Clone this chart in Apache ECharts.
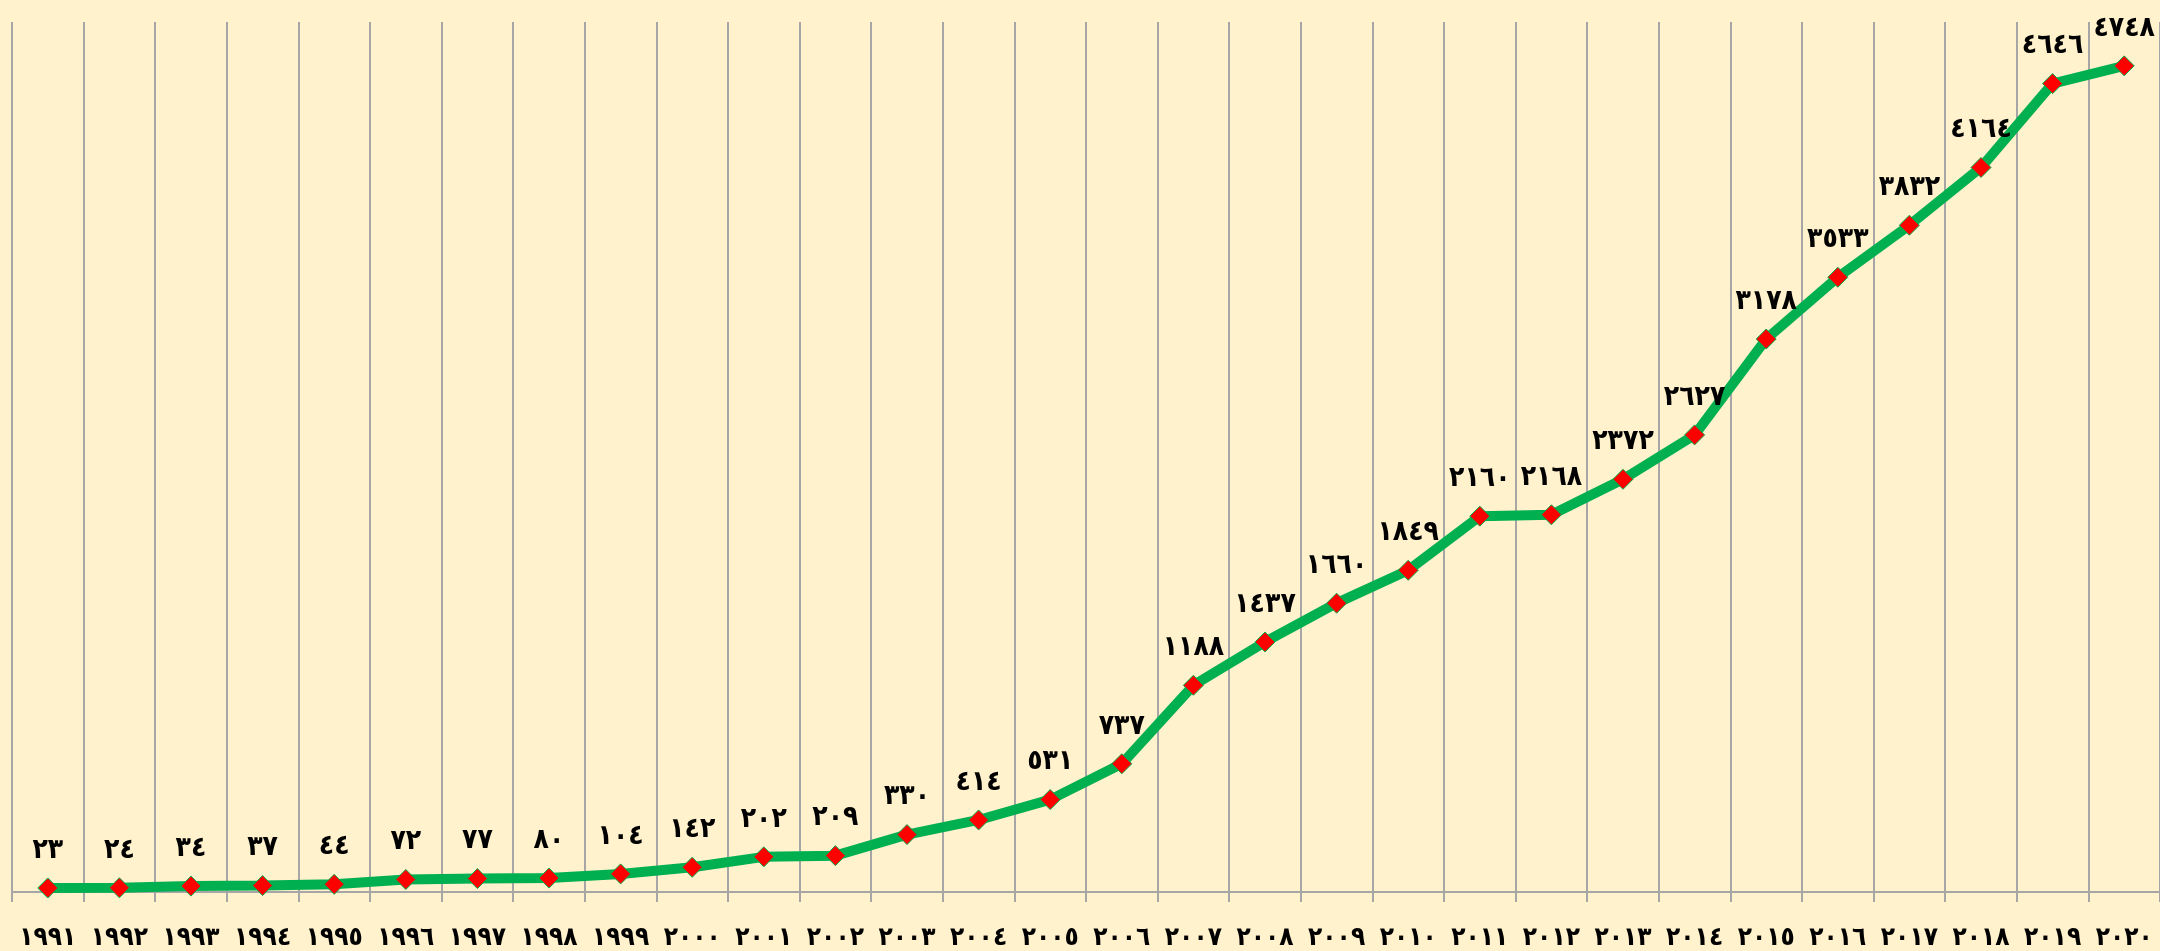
<!DOCTYPE html>
<html><head><meta charset="utf-8">
<script src="https://cdn.jsdelivr.net/npm/echarts@6/dist/echarts.min.js"></script>
<style>html,body{margin:0;padding:0;background:#FFF2CC;}#c{width:2160px;height:951px;}</style>
</head><body><div id="c"></div>
<script>
var years = [1991,1992,1993,1994,1995,1996,1997,1998,1999,2000,2001,2002,2003,2004,2005,2006,2007,2008,2009,2010,2011,2012,2013,2014,2015,2016,2017,2018,2019,2020];
var values = [23,24,34,37,44,72,77,80,104,142,202,209,330,414,531,737,1188,1437,1660,1849,2160,2168,2372,2627,3178,3533,3832,4164,4646,4748];
var yMin = 0, yMax = 5000;

function toArabic(n){
  return String(n).replace(/[0-9]/g, function(d){ return String.fromCharCode(0x0660 + (+d)); });
}
var FONT = '"DejaVu Sans Condensed", "DejaVu Sans"';
var chart = echarts.init(document.getElementById('c'));
chart.setOption({
  backgroundColor: '#FFF2CC',
  animation: false,
  grid: {left: 12, right: 0, top: 22, bottom: 58, containLabel: false},
  xAxis: {
    type: 'category',
    data: years.map(String),
    boundaryGap: true,
    axisLine: {show: true, lineStyle: {color: '#A6A6A6', width: 2}},
    axisTick: {show: true, length: 10, interval: 0, lineStyle: {color: '#A6A6A6', width: 2}},
    splitLine: {show: true, interval: 0, lineStyle: {color: '#A6A6A6', width: 2}},
    axisLabel: {
      interval: 0, margin: 33,
      color: '#000', fontSize: 26, fontWeight: 'bold', fontFamily: FONT,
      formatter: function(v){ return toArabic(v); }
    }
  },
  yAxis: {
    type: 'value', min: yMin, max: yMax,
    show: false, splitLine: {show: false}
  },
  series: [{
    type: 'line',
    data: values,
    lineStyle: {color: '#00B050', width: 10},
    itemStyle: {color: '#FF0000', borderColor: '#00B050', borderWidth: 1},
    symbol: 'diamond',
    symbolSize: 20,
    label: {
      show: true, position: 'top', distance: 13,
      color: '#000', fontSize: 28, fontWeight: 'bold', fontFamily: FONT,
      formatter: function(p){ return toArabic(p.value); }
    }
  }]
});
</script></body></html>
